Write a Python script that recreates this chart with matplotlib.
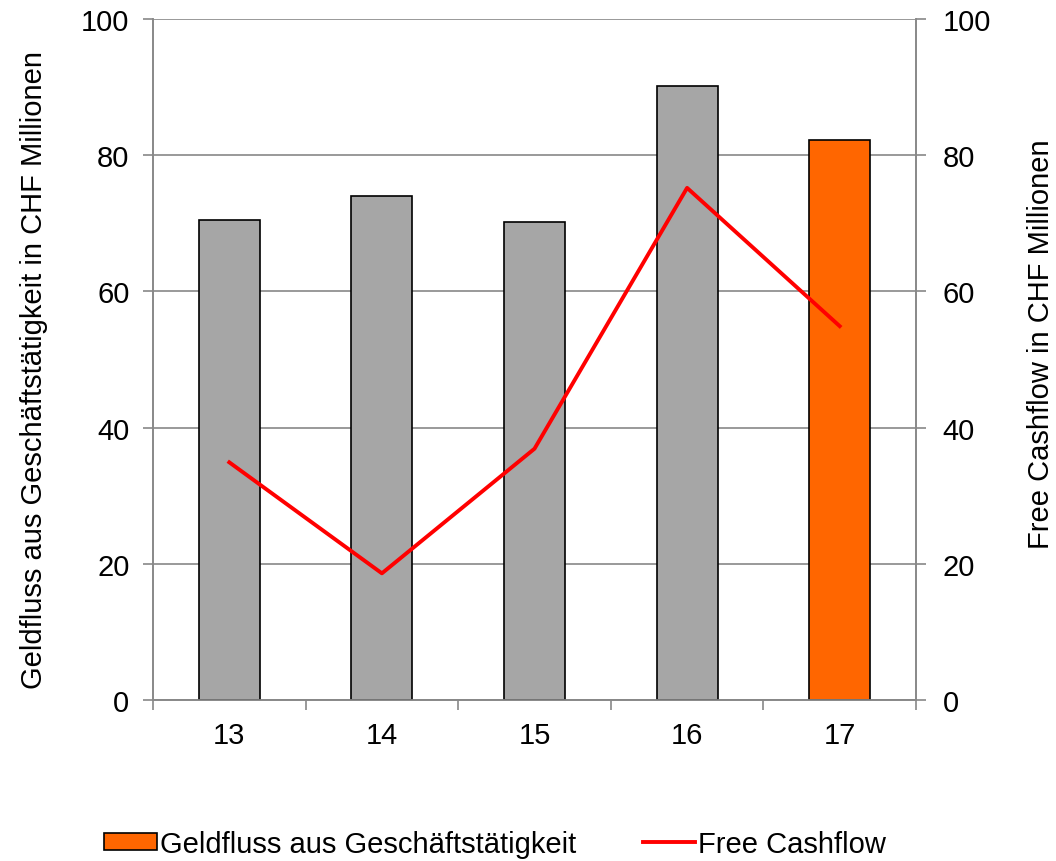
import matplotlib
matplotlib.use("Agg")
import matplotlib.pyplot as plt
from matplotlib.patches import Patch
import numpy as np

plt.rcParams['font.family'] = ['Liberation Sans', 'DejaVu Sans']

years = ['13', '14', '15', '16', '17']
geldfluss = [70.5, 74.0, 70.2, 90.2, 82.2]
free_cashflow = [34.9, 18.6, 36.9, 75.2, 54.9]
bar_colors = ['#a6a6a6', '#a6a6a6', '#a6a6a6', '#a6a6a6', '#ff6600']

grid_col = '#888888'
fs = 21

fig = plt.figure(figsize=(10.56, 8.62), dpi=100)
ax = fig.add_axes([153/1056, 1-701/862, (916-153)/1056, (701-20)/862])
ax2 = ax.twinx()

x = np.arange(len(years))
ax.bar(x, geldfluss, width=0.4, color=bar_colors, edgecolor='black', linewidth=1.2,
       zorder=3, label='Geldfluss aus Geschäftstätigkeit')
ax2.plot(x, free_cashflow, color='#ff0000', linewidth=2.8, zorder=4, label='Free Cashflow')

for a in (ax, ax2):
    a.set_ylim(0, 100)
    a.set_yticks(range(0, 101, 20))
    a.set_xlim(-0.5, 4.5)
    for s in a.spines.values():
        s.set_color(grid_col)
        s.set_linewidth(1.2)
    a.spines['top'].set_visible(False)
    a.tick_params(axis='y', colors=grid_col, labelcolor='black', labelsize=fs,
                  length=7, width=1.2, direction='out')
ax.tick_params(axis='y', pad=10)
ax2.tick_params(axis='y', pad=12)

# horizontal gridlines, the top one doubles as the upper border
ax.yaxis.grid(True, color=grid_col, linewidth=1.2, zorder=0)
ax.set_axisbelow(True)
ax.set_xticks(x)
ax.set_xticklabels(years, fontsize=fs)
ax.set_xticks(np.arange(-0.5, 5, 1), minor=True)
ax.tick_params(axis='x', which='major', length=0, pad=15)
ax.tick_params(axis='x', which='minor', length=7, width=1.2, color=grid_col, direction='out')

ax.set_ylabel('Geldfluss aus Geschäftstätigkeit in CHF Millionen', fontsize=fs)
ax.yaxis.set_label_coords(-0.137, 0.486)
ax2.set_ylabel('Free Cashflow in CHF Millionen', fontsize=fs)
ax2.yaxis.set_label_coords(1.145, 0.524)

h2, l2 = ax2.get_legend_handles_labels()
h1 = [Patch(facecolor='#ff6600', edgecolor='black', linewidth=1.2)]
l1 = ['Geldfluss aus Geschäftstätigkeit']
fig.legend(h1 + h2, l1 + l2, loc='center', bbox_to_anchor=(0.469, 1-845/862), ncol=2,
           frameon=False, fontsize=fs, handlelength=1.8, handleheight=0.55,
           handletextpad=0.1, columnspacing=2.3)

fig.savefig('out.png', dpi=100)
